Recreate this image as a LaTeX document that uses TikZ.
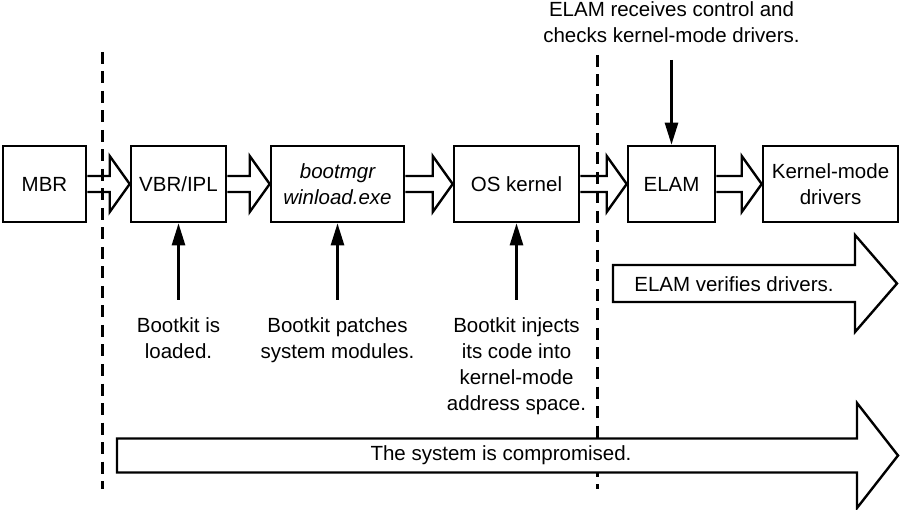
\documentclass[tikz,border=0pt]{standalone}
\usepackage{fontspec}
\setmainfont{Liberation Sans}
\usetikzlibrary{arrows.meta,positioning,calc}

\begin{document}
\begin{tikzpicture}[
    x=1pt, y=-1pt,
    stage/.style={
        rectangle, draw, line width=2.6pt,
        minimum height=76pt, inner sep=0pt, align=center,
        font=\fontsize{20.5}{26}\selectfont
    },
    note/.style={
        align=center, inner xsep=0pt, inner ysep=17pt,
        font=\fontsize{20.5}{26.3}\selectfont
    },
    pointer/.style={-{Triangle[length=22pt, width=13pt]}, line width=2.6pt},
    fat/.style={line width=2.4pt, line join=miter},
    border/.style={line width=2.6pt, dash pattern=on 12pt off 7.5pt}
]

\useasboundingbox (0,0) rectangle (902,510);

% Boot stages
\node[stage, minimum width=83pt]  (mbr)  at (44.5,184)  {MBR};
\node[stage, minimum width=95pt]  (vbr)  at (178.5,184) {VBR/IPL};
\node[stage, minimum width=133pt, font=\fontsize{20.5}{26}\selectfont\itshape] (boot) at (337.5,184) {bootmgr\\winload.exe};
\node[stage, minimum width=125pt] (os)   at (516.5,184) {OS kernel};
\node[stage, minimum width=87pt]  (elam) at (671.5,184) {ELAM};
\node[stage, minimum width=135pt] (kmd)  at (830.5,184) {Kernel-mode\\drivers};

% Fat arrows between stages
\foreach \a/\b in {mbr/vbr, vbr/boot, boot/os, os/elam, elam/kmd} {
    \draw[fat] ($(\a.east)+(0,-8)$) -- ($(\b.west)+(-20,-8)$) -- ($(\b.west)+(-20,-28)$)
        -- (\b.west) -- ($(\b.west)+(-20,28)$) -- ($(\b.west)+(-20,8)$) -- ($(\a.east)+(0,8)$);
}

% Dashed separators
\draw[border] (102.5,52) -- (102.5,489);
\draw[border] (597.5,55) -- (597.5,489);

% Annotations
\node[note, anchor=north] (loaded)  at (178.5,300) {Bootkit is\\loaded.};
\node[note, anchor=north] (patch)   at (337.5,300) {Bootkit patches\\system modules.};
\node[note, anchor=north] (inject)  at (516.5,300) {Bootkit injects\\its code into\\kernel-mode\\address space.};
\node[note, anchor=south] (control) at (671.5,60)  {ELAM receives control and\\checks kernel-mode drivers.};

\draw[pointer] (loaded.north) -- (vbr.south);
\draw[pointer] (patch.north) -- (boot.south);
\draw[pointer] (inject.north) -- (os.south);
\draw[pointer] (control.south) -- (elam.north);

% ELAM verification
\draw[fat] (613,265) -- (855,265) -- (855,235) -- (897,283.5) -- (855,332) -- (855,302) -- (613,302) -- cycle;
\node[note, inner ysep=0pt] (verify) at (734,284) {ELAM verifies drivers.};

% Compromise (covers the separator)
\draw[fat, fill=white] (117,438.5) -- (857,438.5) -- (857,403) -- (898,455.5) -- (857,508) -- (857,472.5) -- (117,472.5) -- cycle;
\node[note, inner ysep=0pt] (compromised) at (501,455.5) {The system is compromised.};

\end{tikzpicture}
\end{document}
